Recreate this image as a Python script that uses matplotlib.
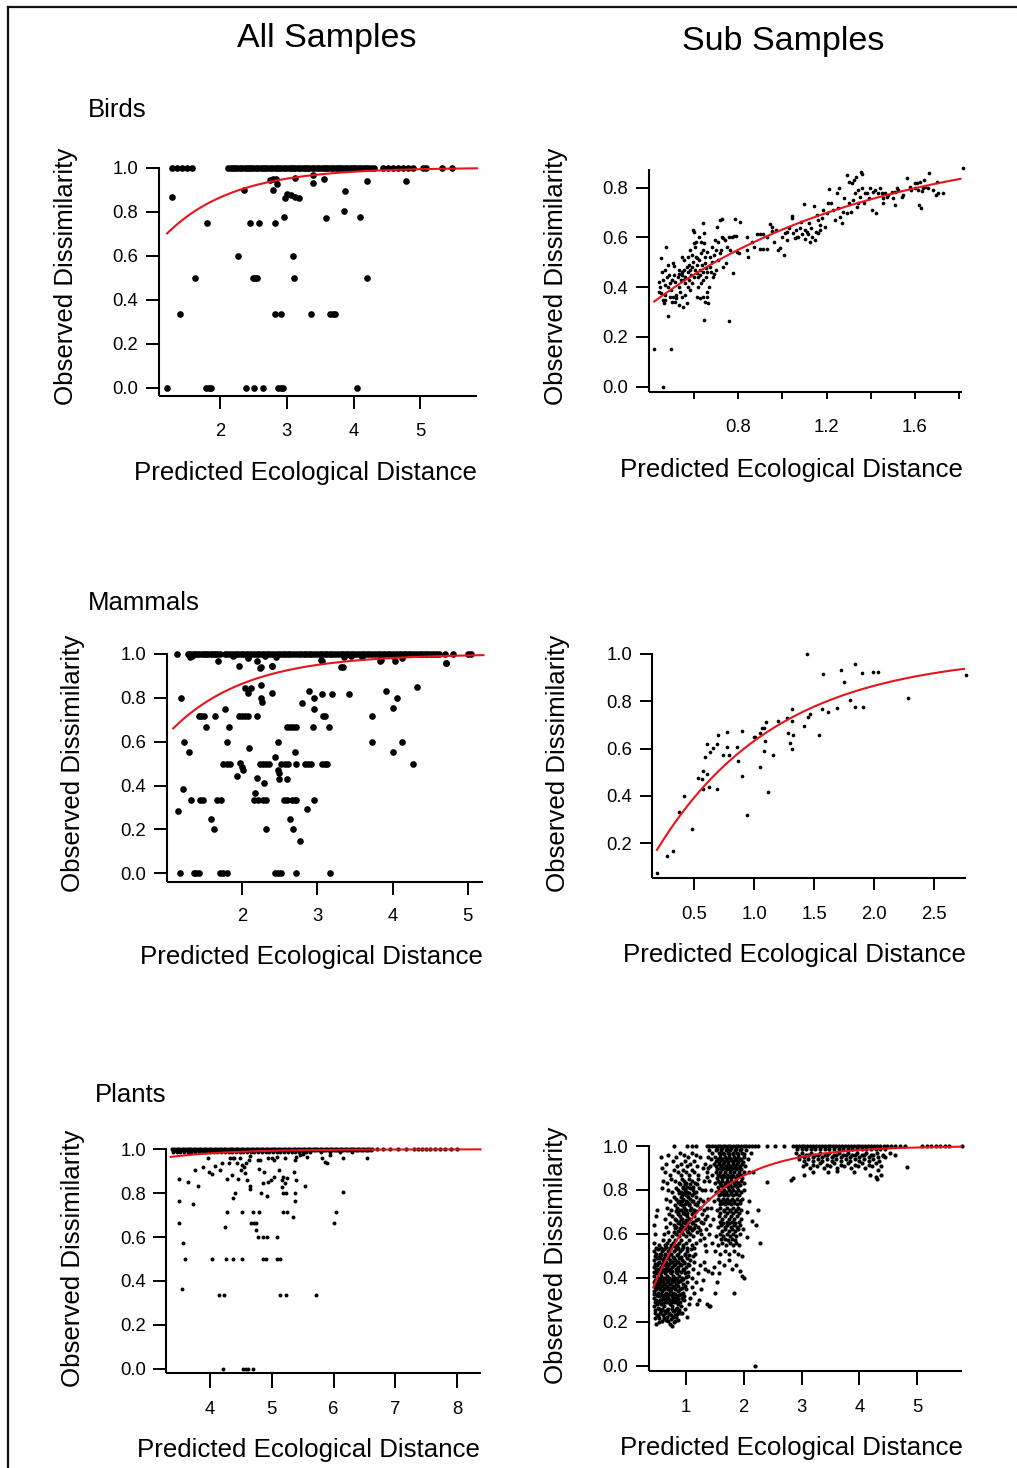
import matplotlib
matplotlib.use("Agg")
import matplotlib.pyplot as plt
from matplotlib.lines import Line2D
import numpy as np

plt.rcParams['font.family'] = ['Liberation Sans', 'DejaVu Sans']

# ---------------- Birds, all samples ----------------
birds_all_top_x = [1.28, 1.35, 1.43, 1.50, 1.58,
                   2.12, 2.16, 2.19, 2.23, 2.26, 2.30, 2.33, 2.37, 2.40, 2.44, 2.47, 2.50,
                   2.54, 2.57, 2.61, 2.64, 2.68, 2.71, 2.75, 2.78, 2.82, 2.85, 2.89, 2.92,
                   2.96, 2.99, 3.03, 3.06, 3.10, 3.13, 3.17, 3.20, 3.24, 3.27, 3.31, 3.34,
                   3.38, 3.41, 3.45, 3.48, 3.52, 3.55, 3.59, 3.62, 3.66, 3.69, 3.73, 3.76,
                   3.80, 3.83, 3.87, 3.90, 3.94, 3.97, 4.01, 4.04, 4.08, 4.11, 4.15, 4.18,
                   4.22, 4.26, 4.30,
                   4.44, 4.52, 4.59, 4.67, 4.74, 4.82, 4.89, 5.04, 5.09, 5.32, 5.47]
birds_all_pts = [(1.28, 0.865), (1.80, 0.75), (1.62, 0.50), (1.40, 0.333), (1.21, 0.0),
                 (1.79, 0.0), (1.83, 0.0), (1.87, 0.0),
                 (2.36, 0.898), (2.45, 0.75), (2.58, 0.75), (2.27, 0.60), (2.49, 0.50),
                 (2.52, 0.50), (2.56, 0.50), (2.39, 0.0), (2.51, 0.0), (2.65, 0.0),
                 (2.75, 0.944), (2.80, 0.947), (2.84, 0.947), (2.80, 0.90), (2.86, 0.925),
                 (2.82, 0.75), (2.83, 0.333), (2.91, 0.333), (2.87, 0.0), (2.91, 0.0), (2.94, 0.0),
                 (2.97, 0.86), (3.01, 0.88), (3.06, 0.875), (3.12, 0.867), (3.19, 0.864),
                 (2.96, 0.777), (3.12, 0.951), (3.09, 0.60), (3.11, 0.50),
                 (3.37, 0.333), (3.39, 0.967), (3.39, 0.932), (3.55, 0.948), (3.59, 0.771),
                 (3.65, 0.333), (3.69, 0.333), (3.72, 0.333),
                 (3.85, 0.803), (3.87, 0.895), (4.09, 0.777), (4.05, 0.0), (4.20, 0.941),
                 (4.20, 0.50), (4.78, 0.941)]

# ---------------- Birds, sub samples ----------------
birds_sub_pts = [
    (0.420, 0.153), (0.495, 0.153), (0.457, 0.0), (0.646, 0.268), (0.758, 0.264), (1.819, 0.880),
    (0.450, 0.516), (0.473, 0.563), (0.452, 0.378), (0.458, 0.35), (0.462, 0.335), (0.467, 0.35),
    (0.483, 0.284), (0.490, 0.415), (0.498, 0.429), (0.503, 0.496), (0.509, 0.485), (0.506, 0.36),
    (0.513, 0.34), (0.520, 0.355), (0.530, 0.40), (0.536, 0.38), (0.533, 0.455), (0.543, 0.449),
    (0.543, 0.523), (0.554, 0.509), (0.551, 0.429), (0.558, 0.415), (0.551, 0.32), (0.566, 0.335),
    (0.566, 0.48), (0.578, 0.49), (0.581, 0.47), (0.573, 0.40), (0.581, 0.389), (0.589, 0.415),
    (0.596, 0.63), (0.599, 0.62), (0.600, 0.576), (0.604, 0.563), (0.607, 0.523), (0.614, 0.516),
    (0.611, 0.456), (0.619, 0.44), (0.626, 0.449), (0.611, 0.362), (0.626, 0.355), (0.619, 0.40),
    (0.630, 0.415), (0.642, 0.429), (0.631, 0.536), (0.638, 0.549), (0.645, 0.576), (0.642, 0.657),
    (0.646, 0.616), (0.649, 0.496), (0.654, 0.476), (0.660, 0.462), (0.657, 0.362), (0.664, 0.335),
    (0.667, 0.40), (0.672, 0.523), (0.679, 0.563), (0.684, 0.44), (0.690, 0.455), (0.694, 0.59),
    (0.702, 0.643), (0.700, 0.549), (0.709, 0.509), (0.717, 0.536), (0.717, 0.67), (0.728, 0.673),
    (0.725, 0.603), (0.732, 0.596), (0.740, 0.59), (0.732, 0.482), (0.744, 0.496), (0.750, 0.563),
    (0.762, 0.549), (0.759, 0.603), (0.770, 0.603), (0.777, 0.458), (0.780, 0.606), (0.789, 0.606),
    (0.792, 0.543), (0.805, 0.536), (0.785, 0.675), (0.807, 0.663), (0.838, 0.603), (0.838, 0.549),
    (0.842, 0.523),
    (0.44, 0.42), (0.445, 0.40), (0.46, 0.43), (0.47, 0.41), (0.475, 0.44), (0.48, 0.40),
    (0.485, 0.45), (0.495, 0.39), (0.50, 0.43), (0.51, 0.45), (0.515, 0.42), (0.525, 0.44),
    (0.53, 0.47), (0.54, 0.43), (0.545, 0.46), (0.555, 0.47), (0.56, 0.44), (0.57, 0.46),
    (0.575, 0.43), (0.585, 0.45), (0.59, 0.48), (0.595, 0.50), (0.60, 0.44), (0.605, 0.47),
    (0.615, 0.49), (0.62, 0.51), (0.625, 0.47), (0.635, 0.49), (0.64, 0.46), (0.65, 0.52),
    (0.655, 0.44), (0.66, 0.54), (0.67, 0.48), (0.675, 0.46), (0.68, 0.50), (0.69, 0.53),
    (0.70, 0.47), (0.71, 0.58), (0.72, 0.55), (0.58, 0.55), (0.57, 0.52), (0.59, 0.53),
    (0.61, 0.58), (0.62, 0.60), (0.63, 0.58), (0.47, 0.37), (0.49, 0.36), (0.50, 0.34),
    (0.52, 0.37), (0.53, 0.33), (0.545, 0.36), (0.56, 0.37), (0.47, 0.47), (0.48, 0.49),
    (0.455, 0.46), (0.44, 0.38), (0.64, 0.36), (0.65, 0.34), (0.66, 0.38),
    (0.883, 0.612), (0.898, 0.612), (0.913, 0.612), (0.898, 0.552), (0.913, 0.552), (0.928, 0.552),
    (0.943, 0.654), (0.954, 0.643), (0.951, 0.627), (0.981, 0.549), (0.989, 0.556), (1.007, 0.529),
    (1.011, 0.616), (1.022, 0.623), (1.019, 0.59), (1.049, 0.616), (1.056, 0.596), (1.064, 0.603),
    (1.042, 0.686), (1.045, 0.677), (1.084, 0.663), (1.097, 0.733), (1.087, 0.614), (1.102, 0.63),
    (1.110, 0.62), (1.117, 0.614), (1.125, 0.583), (1.132, 0.603), (1.147, 0.59), (1.143, 0.728),
    (1.155, 0.69), (1.162, 0.67), (1.162, 0.616), (1.170, 0.63), (1.185, 0.71), (1.192, 0.643),
    (1.205, 0.737), (1.212, 0.793),
    (0.86, 0.58), (0.87, 0.56), (0.93, 0.60), (0.96, 0.58), (0.97, 0.63), (1.00, 0.60),
    (1.03, 0.64), (1.06, 0.63), (1.08, 0.64), (1.12, 0.66), (1.13, 0.64), (1.15, 0.62),
    (1.17, 0.65), (1.18, 0.68), (1.20, 0.70), (1.07, 0.60), (1.10, 0.595),
    (1.23, 0.71), (1.24, 0.67), (1.248, 0.777), (1.255, 0.797), (1.26, 0.683), (1.268, 0.657),
    (1.275, 0.703), (1.29, 0.851), (1.30, 0.824), (1.303, 0.737), (1.309, 0.703), (1.313, 0.817),
    (1.323, 0.831), (1.333, 0.844), (1.328, 0.777), (1.336, 0.724), (1.343, 0.737), (1.35, 0.764),
    (1.354, 0.864), (1.361, 0.854), (1.373, 0.777), (1.384, 0.777), (1.396, 0.797), (1.411, 0.784),
    (1.404, 0.71), (1.423, 0.697), (1.434, 0.777), (1.449, 0.777), (1.464, 0.777), (1.457, 0.757),
    (1.472, 0.764), (1.457, 0.74), (1.494, 0.784), (1.509, 0.784), (1.525, 0.791), (1.509, 0.73),
    (1.54, 0.761), (1.547, 0.771), (1.562, 0.838), (1.577, 0.804), (1.607, 0.817), (1.623, 0.824),
    (1.615, 0.79), (1.63, 0.788), (1.62, 0.73), (1.626, 0.717), (1.638, 0.797), (1.645, 0.804),
    (1.665, 0.858), (1.698, 0.824), (1.695, 0.771), (1.706, 0.78), (1.728, 0.78), (1.64, 0.83),
    (1.22, 0.74), (1.25, 0.72), (1.28, 0.76), (1.29, 0.70), (1.32, 0.75), (1.34, 0.79),
    (1.36, 0.80), (1.37, 0.74), (1.39, 0.76), (1.42, 0.79), (1.44, 0.80), (1.48, 0.77),
    (1.50, 0.76), (1.52, 0.80), (1.58, 0.79), (1.60, 0.80), (1.66, 0.80), (1.68, 0.79), (1.60, 0.82)]

# ---------------- Mammals, all samples ----------------
mammals_all_top_x = [1.13, 1.28, 1.31, 1.34, 1.37, 1.40, 1.43, 1.46, 1.49, 1.52, 1.55, 1.58, 1.61,
                     1.64, 1.67, 1.70,
                     1.77, 1.80, 1.84, 1.87, 1.91, 1.94, 1.98, 2.01, 2.05, 2.08, 2.12, 2.15, 2.19,
                     2.22, 2.26, 2.29, 2.33, 2.36, 2.40, 2.43, 2.47, 2.50, 2.54, 2.57, 2.61, 2.64,
                     2.68, 2.71, 2.75, 2.78, 2.82, 2.85, 2.89, 2.92, 2.96, 2.99, 3.03, 3.06, 3.10,
                     3.13, 3.17, 3.20, 3.24, 3.27, 3.31, 3.34, 3.38, 3.41, 3.45, 3.48, 3.52, 3.55,
                     3.59, 3.62, 3.66, 3.69, 3.73, 3.76, 3.80, 3.83, 3.87, 3.90, 3.94, 3.97, 4.01,
                     4.04, 4.08, 4.11, 4.15, 4.18, 4.22, 4.25, 4.29, 4.32, 4.36, 4.39, 4.43, 4.46,
                     4.50, 4.54, 4.58, 4.62, 4.70, 4.81, 5.01, 5.05]
mammals_all_pts = [
    (1.30, 0.985), (1.33, 0.99), (1.87, 0.99), (2.07, 0.985), (2.30, 0.99), (2.45, 0.985),
    (3.35, 0.985), (3.45, 0.99), (3.60, 0.985), (4.00, 0.99),
    (1.68, 0.969), (1.95, 0.947), (2.08, 0.98), (2.19, 0.969), (2.25, 0.94), (2.40, 0.947),
    (3.06, 0.97), (3.32, 0.94), (3.83, 0.97), (4.03, 0.97), (4.12, 0.98), (4.71, 0.96),
    (1.19, 0.798), (1.23, 0.600), (1.29, 0.555), (1.21, 0.383), (1.15, 0.286),
    (1.17, 0.0), (1.36, 0.0), (1.39, 0.0), (1.42, 0.0),
    (1.42, 0.717), (1.45, 0.717), (1.49, 0.717), (1.52, 0.666),
    (1.32, 0.334), (1.44, 0.334), (1.48, 0.334), (1.64, 0.717), (1.59, 0.246), (1.62, 0.20),
    (1.66, 0.334), (1.72, 0.334), (1.70, 0.0), (1.74, 0.0), (1.79, 0.0),
    (1.77, 0.749), (1.79, 0.60), (1.82, 0.666), (1.75, 0.50), (1.79, 0.50), (1.83, 0.50),
    (1.97, 0.505), (2.00, 0.486), (1.93, 0.444), (2.01, 0.471),
    (1.95, 0.717), (1.99, 0.717), (2.04, 0.717), (2.08, 0.717),
    (2.03, 0.843), (2.07, 0.82), (2.12, 0.843), (2.09, 0.57), (2.20, 0.717), (2.19, 0.433),
    (2.17, 0.365), (2.15, 0.334), (2.21, 0.334), (2.28, 0.334), (2.32, 0.334),
    (2.24, 0.935), (2.25, 0.859), (2.25, 0.798), (2.26, 0.78),
    (2.24, 0.50), (2.27, 0.50), (2.32, 0.50), (2.36, 0.50), (2.29, 0.413), (2.32, 0.20),
    (2.39, 0.945), (2.39, 0.82), (2.43, 0.532), (2.48, 0.60), (2.48, 0.471), (2.49, 0.456),
    (2.49, 0.429), (2.43, 0.0), (2.47, 0.0), (2.51, 0.0),
    (2.52, 0.50), (2.57, 0.50), (2.61, 0.50), (2.59, 0.429),
    (2.55, 0.334), (2.60, 0.334), (2.66, 0.334), (2.70, 0.334), (2.72, 0.334),
    (2.59, 0.666), (2.63, 0.666), (2.68, 0.666), (2.72, 0.666),
    (2.64, 0.246), (2.67, 0.20), (2.70, 0.555), (2.72, 0.50), (2.71, 0.0),
    (2.80, 0.778), (2.77, 0.149), (2.86, 0.292), (2.84, 0.50), (2.88, 0.50), (2.92, 0.50),
    (2.89, 0.833), (2.94, 0.666), (2.96, 0.798), (2.96, 0.748), (2.95, 0.334),
    (3.06, 0.50), (3.10, 0.50), (3.13, 0.50), (3.07, 0.717), (3.10, 0.717), (3.06, 0.818),
    (3.05, 0.973), (3.15, 0.666), (3.17, 0.0), (3.19, 0.818),
    (3.34, 0.942), (3.42, 0.816), (3.72, 0.717), (3.72, 0.60), (3.84, 0.973), (3.91, 0.833),
    (4.01, 0.752), (4.06, 0.798), (4.01, 0.555), (4.12, 0.60), (4.32, 0.851), (4.27, 0.50),
    (4.71, 0.96)]

# ---------------- Mammals, sub samples ----------------
mammals_sub_pts = [
    (0.191, 0.073), (0.275, 0.148), (0.319, 0.169), (0.375, 0.331), (0.417, 0.398), (0.483, 0.262),
    (0.533, 0.477), (0.561, 0.470), (0.572, 0.506), (0.575, 0.428), (0.589, 0.563), (0.603, 0.492),
    (0.608, 0.619), (0.625, 0.438), (0.631, 0.587), (0.659, 0.604), (0.692, 0.619), (0.700, 0.656),
    (0.692, 0.428), (0.742, 0.572), (0.770, 0.605), (0.775, 0.668), (0.792, 0.572), (0.853, 0.608),
    (0.862, 0.547), (0.895, 0.674), (0.900, 0.485), (0.942, 0.321), (0.998, 0.647), (1.006, 0.650),
    (1.048, 0.521), (1.048, 0.664), (1.062, 0.685), (1.081, 0.685), (1.090, 0.633), (1.081, 0.591),
    (1.098, 0.710), (1.112, 0.415), (1.154, 0.573), (1.201, 0.717), (1.276, 0.727), (1.284, 0.666),
    (1.298, 0.622), (1.312, 0.717), (1.318, 0.765), (1.312, 0.598), (1.326, 0.656), (1.415, 0.696),
    (1.437, 1.000), (1.446, 0.733), (1.465, 0.746), (1.543, 0.657), (1.563, 0.765), (1.576, 0.914),
    (1.618, 0.753), (1.693, 0.769), (1.724, 0.931), (1.749, 0.879), (1.799, 0.805), (1.841, 0.955),
    (1.841, 0.776), (1.896, 0.917), (1.910, 0.776), (1.988, 0.921), (2.030, 0.924), (2.286, 0.813),
    (2.767, 0.910)]

# ---------------- Plants, all samples ----------------
plants_all_top_x = [3.38, 3.42, 3.46, 3.50, 3.54, 3.58, 3.62, 3.66, 3.70, 3.74, 3.78, 3.82, 3.86,
                    3.90, 3.94, 3.98, 4.02, 4.06, 4.10, 4.14, 4.18, 4.22, 4.26, 4.30, 4.34, 4.38,
                    4.42, 4.46, 4.50, 4.54, 4.58, 4.62, 4.66, 4.70, 4.74, 4.78, 4.82, 4.86, 4.90,
                    4.94, 4.98, 5.02, 5.06, 5.10, 5.14, 5.18, 5.22, 5.26, 5.30, 5.34, 5.38, 5.42,
                    5.46, 5.50, 5.54, 5.58, 5.62, 5.66, 5.70, 5.74, 5.78, 5.82, 5.86, 5.90, 5.94,
                    5.98, 6.02, 6.06, 6.10, 6.14, 6.18, 6.22, 6.26, 6.30, 6.34, 6.38, 6.42, 6.46,
                    6.50, 6.54, 6.58, 6.62,
                    6.70, 6.80, 6.92, 7.05, 7.18, 7.30, 7.37, 7.43, 7.50, 7.57, 7.65, 7.73,
                    7.80, 7.90, 8.00]
plants_all_band_x = [3.40, 3.44, 3.48, 3.52, 3.56, 3.60, 3.64, 3.68, 3.72, 3.76, 3.80, 3.84, 3.88,
                     3.92, 3.96, 4.00, 4.04, 4.08, 4.12, 4.16, 4.20, 4.24, 4.28, 4.32, 4.36, 4.40,
                     4.44, 4.48, 4.52, 4.56, 4.60, 4.64, 4.68, 4.72, 4.76, 4.80, 4.84, 4.88, 4.92,
                     4.96, 5.00, 5.04, 5.08, 5.12, 5.16, 5.20, 5.24, 5.28, 5.32, 5.36, 5.40, 5.44,
                     5.48, 5.52, 5.56, 5.60, 5.64, 5.68, 5.72, 5.76, 5.80, 5.84, 5.88, 5.92, 5.96,
                     6.00, 6.04, 6.08, 6.12, 6.16, 6.20, 6.24, 6.28, 6.32, 6.36, 6.40, 6.44, 6.48,
                     6.52, 6.56, 6.60]
plants_all_near_top_x = [3.40, 3.46, 3.52, 3.58, 3.64, 3.70, 3.76, 3.82, 3.88, 3.94, 4.00, 4.06,
                         4.12, 4.18, 4.24, 4.30, 4.36, 4.42, 4.48, 4.54, 4.60, 4.66, 4.72, 4.78,
                         4.84, 4.90, 4.96, 5.02, 5.08, 5.14, 5.20, 5.26, 5.32, 5.38, 5.44, 5.50,
                         5.56, 5.62, 5.80, 5.95, 6.10, 6.30]
plants_all_pts = [
    (3.50, 0.865), (3.49, 0.765), (3.50, 0.666), (3.57, 0.574), (3.59, 0.498), (3.55, 0.363),
    (3.65, 0.853), (3.72, 0.751), (3.75, 0.906), (3.80, 0.833), (3.88, 0.918), (3.97, 0.959),
    (3.99, 0.898), (4.04, 0.888), (4.03, 0.498), (4.08, 0.924), (4.16, 0.906), (4.19, 0.936),
    (4.15, 0.336), (4.23, 0.336), (4.21, 0.0), (4.24, 0.647), (4.26, 0.498), (4.28, 0.713),
    (4.28, 0.866), (4.32, 0.959), (4.37, 0.959), (4.39, 0.959), (4.31, 0.936), (4.35, 0.885),
    (4.38, 0.777), (4.40, 0.80), (4.37, 0.498), (4.43, 0.936), (4.46, 0.863), (4.49, 0.959),
    (4.50, 0.906), (4.52, 0.713), (4.52, 0.498), (4.54, 0.0), (4.58, 0.0), (4.62, 0.0),
    (4.51, 0.93), (4.55, 0.92), (4.59, 0.936), (4.57, 0.89), (4.60, 0.86), (4.63, 0.951),
    (4.65, 0.97), (4.64, 0.833), (4.65, 0.818), (4.67, 0.666), (4.71, 0.666), (4.74, 0.666),
    (4.70, 0.0), (4.69, 0.713), (4.79, 0.713), (4.74, 0.632), (4.78, 0.599), (4.85, 0.599),
    (4.93, 0.599), (4.78, 0.951), (4.81, 0.951), (4.79, 0.91), (4.83, 0.80), (4.85, 0.498),
    (4.91, 0.498), (4.88, 0.898), (4.86, 0.845), (4.92, 0.787), (4.94, 0.853), (4.99, 0.86),
    (5.03, 0.875), (4.94, 0.959), (5.00, 0.959), (5.04, 0.951), (5.09, 0.599), (5.08, 0.498),
    (5.13, 0.498), (5.09, 0.965), (5.12, 0.906), (5.14, 0.336), (5.23, 0.336), (5.16, 0.86),
    (5.19, 0.875), (5.21, 0.845), (5.24, 0.87), (5.16, 0.83), (5.19, 0.80), (5.23, 0.80),
    (5.19, 0.713), (5.24, 0.713), (5.21, 0.959), (5.34, 0.693), (5.36, 0.898), (5.38, 0.80),
    (5.38, 0.765), (5.39, 0.86), (5.38, 0.951), (5.40, 0.967), (5.45, 0.974), (5.51, 0.978),
    (5.54, 0.833), (5.57, 0.964), (5.71, 0.336), (5.81, 0.959), (5.86, 0.944), (5.90, 0.936),
    (5.94, 0.974), (6.00, 0.666), (6.04, 0.713), (6.15, 0.959), (6.16, 0.807), (6.54, 0.959)]

# ---------------- Plants, sub samples ----------------
plants_sub_top_x = [0.79, 1.02, 1.10, 1.18, 1.36, 1.41, 1.46, 1.50, 1.55, 1.59, 1.64, 1.68, 1.73,
                    1.77, 1.82, 1.86, 1.91, 1.95, 2.00, 2.04, 2.09, 2.14, 2.20, 2.25, 2.40, 2.55,
                    2.70, 2.86, 2.90, 2.95, 3.00, 3.05, 3.10, 3.15, 3.20, 3.25, 3.30, 3.35, 3.40,
                    3.45, 3.50, 3.55, 3.60, 3.65, 3.70, 3.75, 3.80, 3.85, 3.90, 3.95, 4.00, 4.05,
                    4.10, 4.15, 4.20, 4.25, 4.30, 4.36, 4.42, 4.48, 4.55, 4.62, 4.70, 4.78, 5.08,
                    5.16, 5.24, 5.32, 5.40, 5.48, 5.55, 5.78]
plants_sub_low_pts = [
    (0.49, 0.19), (0.53, 0.20), (0.66, 0.21), (0.72, 0.19), (0.76, 0.18), (0.80, 0.20), (0.84, 0.22),
    (0.87, 0.21), (0.47, 0.24), (0.52, 0.23), (0.57, 0.25), (0.61, 0.23), (0.64, 0.25), (0.68, 0.22),
    (0.71, 0.24), (0.74, 0.23), (0.78, 0.25), (0.82, 0.23), (0.86, 0.25), (0.90, 0.24),
    (0.46, 0.27), (0.50, 0.28), (0.54, 0.26), (0.58, 0.28), (0.62, 0.27), (0.65, 0.29), (0.69, 0.26),
    (0.72, 0.28), (0.76, 0.27), (0.79, 0.29), (0.83, 0.26), (0.87, 0.28), (0.92, 0.27),
    (0.45, 0.31), (0.48, 0.30), (0.51, 0.32), (0.55, 0.30), (0.58, 0.32), (0.61, 0.31), (0.64, 0.30),
    (0.67, 0.32), (0.70, 0.31), (0.73, 0.30), (0.77, 0.32), (0.80, 0.31), (0.84, 0.30), (0.88, 0.32),
    (0.93, 0.31), (0.97, 0.30),
    (0.46, 0.34), (0.49, 0.35), (0.52, 0.33), (0.56, 0.35), (0.59, 0.34), (0.62, 0.35), (0.66, 0.33),
    (0.69, 0.35), (0.72, 0.34), (0.75, 0.35), (0.78, 0.33), (0.82, 0.35), (0.86, 0.34), (0.90, 0.35),
    (0.95, 0.33), (1.00, 0.35),
    (0.45, 0.38), (0.48, 0.37), (0.51, 0.39), (0.54, 0.37), (0.57, 0.38), (0.60, 0.39), (0.63, 0.37),
    (0.67, 0.38), (0.70, 0.39), (0.73, 0.37), (0.76, 0.38), (0.80, 0.39), (0.83, 0.37), (0.87, 0.38),
    (0.91, 0.39), (0.96, 0.37), (1.02, 0.38),
    (0.46, 0.41), (0.49, 0.42), (0.52, 0.40), (0.55, 0.42), (0.58, 0.41), (0.62, 0.40), (0.65, 0.42),
    (0.68, 0.41), (0.71, 0.40), (0.74, 0.42), (0.78, 0.41), (0.81, 0.40), (0.85, 0.42), (0.89, 0.41),
    (0.93, 0.40), (0.98, 0.42), (1.04, 0.41), (1.10, 0.40),
    (0.45, 0.45), (0.48, 0.44), (0.51, 0.46), (0.54, 0.44), (0.57, 0.45), (0.60, 0.46), (0.64, 0.44),
    (0.67, 0.45), (0.70, 0.46), (0.73, 0.44), (0.77, 0.45), (0.80, 0.46), (0.83, 0.44), (0.87, 0.45),
    (0.91, 0.46), (0.95, 0.44), (1.00, 0.45), (1.06, 0.46), (1.12, 0.44),
    (0.46, 0.48), (0.50, 0.49), (0.53, 0.47), (0.56, 0.49), (0.60, 0.48), (0.63, 0.49), (0.66, 0.47),
    (0.69, 0.49), (0.72, 0.48), (0.76, 0.47), (0.79, 0.49), (0.82, 0.48), (0.86, 0.47), (0.89, 0.49),
    (0.93, 0.48), (0.97, 0.47), (1.02, 0.49), (1.08, 0.48), (1.15, 0.47),
    (0.45, 0.52), (0.48, 0.51), (0.52, 0.53), (0.55, 0.51), (0.59, 0.52), (0.62, 0.53), (0.65, 0.51),
    (0.69, 0.52), (0.72, 0.53), (0.75, 0.51), (0.79, 0.52), (0.83, 0.53), (0.86, 0.51), (0.90, 0.52),
    (0.94, 0.53), (0.98, 0.51), (1.03, 0.52), (1.09, 0.53), (1.16, 0.51),
    (0.46, 0.56), (0.53, 0.55), (0.60, 0.57), (0.64, 0.55), (0.68, 0.56), (0.71, 0.57), (0.75, 0.55),
    (0.78, 0.56), (0.82, 0.57), (0.85, 0.55), (0.89, 0.56), (0.92, 0.57), (0.96, 0.55), (1.00, 0.56),
    (1.05, 0.57), (1.10, 0.55), (1.17, 0.56), (1.24, 0.57)]
plants_sub_low_fill = [
    (0.475, 0.215), (0.505, 0.225), (0.545, 0.215), (0.585, 0.205), (0.625, 0.215), (0.695, 0.205),
    (0.745, 0.212), (0.785, 0.222), (0.815, 0.205), (0.855, 0.235),
    (0.465, 0.255), (0.515, 0.262), (0.555, 0.242), (0.595, 0.258), (0.635, 0.238), (0.675, 0.252),
    (0.705, 0.235), (0.755, 0.258), (0.805, 0.248), (0.845, 0.262), (0.885, 0.255),
    (0.475, 0.292), (0.525, 0.288), (0.565, 0.298), (0.605, 0.285), (0.655, 0.305), (0.685, 0.292),
    (0.745, 0.288), (0.785, 0.302), (0.825, 0.292), (0.865, 0.305), (0.905, 0.292), (0.945, 0.305),
    (0.455, 0.325), (0.505, 0.322), (0.535, 0.318), (0.575, 0.328), (0.625, 0.322), (0.685, 0.318),
    (0.715, 0.325), (0.765, 0.318), (0.815, 0.328), (0.855, 0.318), (0.915, 0.325), (0.975, 0.318),
    (0.465, 0.358), (0.505, 0.362), (0.545, 0.352), (0.585, 0.362), (0.645, 0.355), (0.675, 0.365),
    (0.735, 0.352), (0.775, 0.362), (0.815, 0.352), (0.875, 0.362), (0.935, 0.355), (0.985, 0.365),
    (0.475, 0.392), (0.525, 0.385), (0.555, 0.395), (0.615, 0.385), (0.655, 0.395), (0.695, 0.385),
    (0.755, 0.395), (0.795, 0.385), (0.855, 0.395), (0.895, 0.385), (0.945, 0.395), (1.005, 0.402),
    (0.455, 0.428), (0.505, 0.432), (0.565, 0.425), (0.605, 0.435), (0.645, 0.428), (0.695, 0.435),
    (0.725, 0.425), (0.765, 0.432), (0.825, 0.425), (0.875, 0.435), (0.925, 0.428), (0.975, 0.435),
    (1.035, 0.428),
    (0.475, 0.462), (0.525, 0.468), (0.585, 0.462), (0.625, 0.472), (0.655, 0.458), (0.715, 0.465),
    (0.745, 0.472), (0.815, 0.462), (0.855, 0.472), (0.905, 0.462), (0.965, 0.468), (1.045, 0.462),
    (0.465, 0.498), (0.535, 0.495), (0.575, 0.502), (0.645, 0.498), (0.705, 0.505), (0.775, 0.495),
    (0.845, 0.502), (0.915, 0.495), (0.985, 0.502), (1.055, 0.505), (1.125, 0.498),
    (0.495, 0.538), (0.575, 0.535), (0.665, 0.542), (0.735, 0.535), (0.805, 0.545), (0.875, 0.535),
    (0.945, 0.542), (1.025, 0.538), (1.135, 0.535)]
plants_sub_upper_pts = [
    (0.47, 0.60), (0.62, 0.60), (0.70, 0.61), (0.76, 0.59), (0.80, 0.61), (0.84, 0.60), (0.88, 0.59),
    (0.92, 0.61), (0.96, 0.60), (1.00, 0.59), (1.04, 0.61), (1.08, 0.60), (1.13, 0.59), (1.19, 0.61),
    (1.27, 0.60),
    (0.46, 0.64), (0.66, 0.63), (0.73, 0.65), (0.79, 0.64), (0.83, 0.63), (0.87, 0.65), (0.91, 0.64),
    (0.95, 0.63), (0.99, 0.65), (1.03, 0.64), (1.07, 0.63), (1.11, 0.65), (1.16, 0.64), (1.22, 0.63),
    (1.30, 0.65),
    (0.48, 0.68), (0.64, 0.67), (0.71, 0.69), (0.77, 0.68), (0.82, 0.67), (0.86, 0.69), (0.90, 0.68),
    (0.94, 0.67), (0.98, 0.69), (1.02, 0.68), (1.06, 0.67), (1.10, 0.69), (1.15, 0.68), (1.21, 0.67),
    (1.28, 0.69),
    (0.50, 0.71), (0.68, 0.72), (0.75, 0.71), (0.81, 0.73), (0.85, 0.72), (0.89, 0.71), (0.93, 0.73),
    (0.97, 0.72), (1.01, 0.71), (1.05, 0.73), (1.09, 0.72), (1.14, 0.71), (1.19, 0.73), (1.25, 0.72),
    (1.32, 0.71),
    (0.66, 0.76), (0.73, 0.75), (0.79, 0.77), (0.84, 0.76), (0.88, 0.75), (0.92, 0.77), (0.96, 0.76),
    (1.00, 0.75), (1.04, 0.77), (1.08, 0.76), (1.13, 0.75), (1.18, 0.77), (1.24, 0.76),
    (0.59, 0.81), (0.70, 0.80), (0.77, 0.79), (0.83, 0.81), (0.87, 0.80), (0.91, 0.79), (0.95, 0.81),
    (0.99, 0.80), (1.03, 0.79), (1.07, 0.81), (1.12, 0.80), (1.17, 0.79), (1.23, 0.81),
    (0.61, 0.84), (0.68, 0.83), (0.75, 0.85), (0.82, 0.84), (0.88, 0.83), (0.93, 0.85), (0.97, 0.84),
    (1.01, 0.83), (1.05, 0.85), (1.10, 0.84), (1.16, 0.83), (1.22, 0.85),
    (0.64, 0.88), (0.72, 0.87), (0.80, 0.89), (0.86, 0.88), (0.91, 0.87), (0.96, 0.89), (1.00, 0.88),
    (1.05, 0.87), (1.10, 0.89), (1.15, 0.88), (1.21, 0.87),
    (0.59, 0.90), (0.66, 0.92), (0.78, 0.93), (0.85, 0.91), (0.92, 0.92), (0.98, 0.93), (1.03, 0.91),
    (1.08, 0.92), (1.14, 0.93), (1.20, 0.91),
    (0.57, 0.95), (0.70, 0.96), (0.83, 0.95), (0.90, 0.97), (0.97, 0.96), (1.04, 0.95), (1.11, 0.97),
    (1.18, 0.96), (1.25, 0.95),
    (0.82, 0.625), (0.86, 0.615), (0.90, 0.628), (0.94, 0.618), (0.98, 0.625), (1.02, 0.615),
    (1.06, 0.628), (1.10, 0.618), (1.15, 0.625), (1.24, 0.618),
    (0.84, 0.665), (0.88, 0.655), (0.92, 0.668), (0.96, 0.655), (1.00, 0.665), (1.04, 0.655),
    (1.08, 0.668), (1.12, 0.655), (1.18, 0.665), (1.26, 0.655),
    (0.83, 0.705), (0.87, 0.695), (0.91, 0.708), (0.95, 0.695), (0.99, 0.705), (1.03, 0.695),
    (1.07, 0.708), (1.12, 0.695), (1.17, 0.705),
    (0.86, 0.745), (0.90, 0.735), (0.94, 0.748), (0.98, 0.735), (1.02, 0.745), (1.06, 0.735),
    (1.11, 0.748), (1.16, 0.735), (1.22, 0.745),
    (0.89, 0.785), (0.93, 0.775), (0.97, 0.788), (1.01, 0.775), (1.05, 0.785), (1.10, 0.775),
    (1.15, 0.788),
    (0.90, 0.825), (0.95, 0.815), (0.99, 0.828), (1.03, 0.815), (1.08, 0.825), (1.13, 0.815),
    (1.19, 0.828),
    (1.33, 0.55), (1.35, 0.62), (1.37, 0.72), (1.34, 0.80), (1.36, 0.86), (1.33, 0.92), (1.30, 0.75),
    (1.32, 0.58), (1.35, 0.52), (1.38, 0.90), (1.31, 0.84), (1.29, 0.90), (1.34, 0.67), (1.28, 0.80),
    (1.10, 0.36), (1.14, 0.33), (1.18, 0.38), (1.22, 0.42), (1.26, 0.35), (1.19, 0.28), (1.23, 0.30),
    (1.30, 0.39), (1.34, 0.44), (1.36, 0.28), (1.40, 0.27), (1.42, 0.27), (1.38, 0.43), (1.45, 0.42),
    (1.48, 0.45), (1.51, 0.33), (1.54, 0.38), (1.58, 0.42), (1.25, 0.46), (1.31, 0.47), (1.05, 0.28),
    (1.08, 0.31), (0.98, 0.26), (1.02, 0.22), (0.94, 0.24)]
plants_sub_mid_pts = [
    (1.40, 0.98), (1.46, 0.97), (1.52, 0.98), (1.57, 0.97), (1.61, 0.98), (1.65, 0.97), (1.69, 0.98),
    (1.73, 0.97), (1.77, 0.98), (1.81, 0.97), (1.85, 0.98), (1.89, 0.97), (1.93, 0.98), (1.98, 0.97),
    (2.04, 0.98), (2.12, 0.97),
    (1.38, 0.95), (1.44, 0.94), (1.50, 0.95), (1.55, 0.94), (1.59, 0.95), (1.63, 0.94), (1.67, 0.95),
    (1.71, 0.94), (1.75, 0.95), (1.79, 0.94), (1.83, 0.95), (1.87, 0.94), (1.91, 0.95), (1.95, 0.94),
    (2.00, 0.95), (2.07, 0.94),
    (1.42, 0.91), (1.48, 0.92), (1.53, 0.91), (1.57, 0.92), (1.61, 0.91), (1.65, 0.92), (1.69, 0.91),
    (1.73, 0.92), (1.77, 0.91), (1.81, 0.92), (1.85, 0.91), (1.89, 0.92), (1.93, 0.91), (1.97, 0.92),
    (2.02, 0.91),
    (1.37, 0.88), (1.46, 0.87), (1.52, 0.88), (1.56, 0.87), (1.60, 0.88), (1.64, 0.87), (1.68, 0.88),
    (1.72, 0.87), (1.76, 0.88), (1.80, 0.87), (1.84, 0.88), (1.88, 0.87), (1.92, 0.88), (1.96, 0.87),
    (2.00, 0.88), (2.10, 0.88),
    (1.41, 0.84), (1.50, 0.83), (1.55, 0.84), (1.59, 0.83), (1.63, 0.84), (1.67, 0.83), (1.71, 0.84),
    (1.75, 0.83), (1.79, 0.84), (1.83, 0.83), (1.87, 0.84), (1.91, 0.83), (1.95, 0.84), (2.00, 0.83),
    (1.44, 0.80), (1.53, 0.79), (1.58, 0.80), (1.62, 0.79), (1.66, 0.80), (1.70, 0.79), (1.74, 0.80),
    (1.78, 0.79), (1.82, 0.80), (1.86, 0.79), (1.90, 0.80), (1.95, 0.79), (2.01, 0.80),
    (1.39, 0.76), (1.49, 0.75), (1.56, 0.76), (1.60, 0.75), (1.64, 0.76), (1.68, 0.75), (1.72, 0.76),
    (1.76, 0.75), (1.80, 0.76), (1.84, 0.75), (1.88, 0.76), (1.93, 0.75), (1.98, 0.76),
    (1.43, 0.72), (1.54, 0.71), (1.60, 0.72), (1.66, 0.71), (1.71, 0.72), (1.76, 0.71), (1.81, 0.72),
    (1.86, 0.71), (1.91, 0.72), (1.96, 0.71),
    (1.37, 0.68), (1.47, 0.67), (1.57, 0.68), (1.63, 0.67), (1.68, 0.68), (1.74, 0.67), (1.79, 0.68),
    (1.84, 0.67), (1.89, 0.68), (1.95, 0.67),
    (1.42, 0.64), (1.55, 0.63), (1.61, 0.64), (1.67, 0.63), (1.72, 0.64), (1.78, 0.63), (1.83, 0.64),
    (1.88, 0.63), (1.94, 0.64), (1.99, 0.62),
    (1.40, 0.60), (1.52, 0.59), (1.59, 0.60), (1.65, 0.59), (1.71, 0.60), (1.77, 0.59), (1.82, 0.60),
    (1.87, 0.59), (1.93, 0.60),
    (1.46, 0.56), (1.56, 0.55), (1.63, 0.56), (1.70, 0.55), (1.76, 0.56), (1.81, 0.55), (1.87, 0.56),
    (1.92, 0.55),
    (1.50, 0.52), (1.60, 0.51), (1.68, 0.52), (1.75, 0.51), (1.83, 0.52), (1.90, 0.51), (1.97, 0.50),
    (1.58, 0.47), (1.66, 0.46), (1.74, 0.48), (1.86, 0.46), (1.93, 0.43), (1.97, 0.41), (2.00, 0.40),
    (1.80, 0.44), (1.83, 0.33),
    (2.05, 0.587), (2.21, 0.64), (2.25, 0.71), (2.28, 0.56), (2.40, 0.838), (2.16, 0.883),
    (2.10, 0.75), (2.14, 0.66), (2.06, 0.70), (2.19, 0.0)]
plants_sub_mid_fill = [
    (1.545, 0.985), (1.585, 0.965), (1.625, 0.99), (1.665, 0.962), (1.705, 0.985), (1.745, 0.962),
    (1.785, 0.99), (1.825, 0.962), (1.865, 0.985), (1.905, 0.962), (1.955, 0.985), (2.015, 0.962),
    (1.525, 0.93), (1.575, 0.925), (1.615, 0.935), (1.655, 0.925), (1.695, 0.935), (1.735, 0.925),
    (1.775, 0.935), (1.815, 0.925), (1.855, 0.935), (1.895, 0.925), (1.945, 0.935), (1.985, 0.925),
    (1.535, 0.895), (1.585, 0.90), (1.625, 0.895), (1.665, 0.90), (1.705, 0.895), (1.745, 0.90),
    (1.785, 0.895), (1.825, 0.90), (1.865, 0.895), (1.905, 0.90), (1.955, 0.895),
    (1.545, 0.855), (1.585, 0.862), (1.625, 0.855), (1.665, 0.862), (1.705, 0.855), (1.745, 0.862),
    (1.785, 0.855), (1.825, 0.862), (1.865, 0.855), (1.905, 0.862), (1.975, 0.855),
    (1.565, 0.815), (1.605, 0.822), (1.645, 0.815), (1.685, 0.822), (1.725, 0.815), (1.765, 0.822),
    (1.805, 0.815), (1.845, 0.822), (1.885, 0.815), (1.935, 0.822),
    (1.575, 0.775), (1.615, 0.782), (1.655, 0.775), (1.695, 0.782), (1.735, 0.775), (1.775, 0.782),
    (1.815, 0.775), (1.865, 0.782), (1.915, 0.775),
    (1.585, 0.735), (1.635, 0.742), (1.685, 0.735), (1.735, 0.742), (1.785, 0.735), (1.835, 0.742),
    (1.885, 0.735), (1.945, 0.742),
    (1.595, 0.695), (1.655, 0.702), (1.705, 0.695), (1.765, 0.702), (1.815, 0.695), (1.865, 0.702),
    (1.925, 0.695),
    (1.585, 0.655), (1.645, 0.648), (1.705, 0.655), (1.755, 0.648), (1.805, 0.655), (1.855, 0.648),
    (1.915, 0.655),
    (1.625, 0.615), (1.685, 0.622), (1.745, 0.615), (1.795, 0.622), (1.845, 0.615), (1.905, 0.622),
    (1.605, 0.575), (1.675, 0.578), (1.735, 0.572), (1.795, 0.578), (1.855, 0.572)]
plants_sub_right_pts = [
    (2.92, 0.985), (3.00, 0.985), (3.08, 0.985), (3.16, 0.985), (3.24, 0.985), (3.32, 0.985),
    (3.40, 0.985), (3.48, 0.985), (3.56, 0.985), (3.64, 0.985), (3.72, 0.985), (3.80, 0.985),
    (3.88, 0.985), (3.96, 0.985), (4.04, 0.985), (4.12, 0.985), (4.20, 0.985), (4.28, 0.985),
    (4.36, 0.985), (4.44, 0.985),
    (2.90, 0.97), (3.00, 0.97), (3.08, 0.96), (3.16, 0.97), (3.24, 0.96), (3.32, 0.97), (3.40, 0.96),
    (3.48, 0.97), (3.56, 0.96), (3.64, 0.97), (3.72, 0.96), (3.80, 0.97), (3.88, 0.96), (3.96, 0.97),
    (4.04, 0.96), (4.12, 0.97), (4.20, 0.96), (4.30, 0.97), (4.40, 0.96), (4.52, 0.97), (4.62, 0.96),
    (2.95, 0.94), (3.04, 0.93), (3.12, 0.94), (3.20, 0.93), (3.28, 0.94), (3.36, 0.93), (3.44, 0.94),
    (3.52, 0.93), (3.60, 0.94), (3.68, 0.93), (3.76, 0.94), (3.84, 0.93), (3.92, 0.94), (4.00, 0.93),
    (4.08, 0.94), (4.16, 0.93), (4.24, 0.94), (4.34, 0.93), (4.44, 0.95),
    (3.02, 0.91), (3.14, 0.90), (3.26, 0.91), (3.38, 0.90), (3.50, 0.91), (3.62, 0.90), (3.74, 0.91),
    (3.86, 0.90), (3.98, 0.91), (4.10, 0.90), (4.22, 0.91), (4.32, 0.89),
    (2.81, 0.845), (2.85, 0.853), (3.20, 0.88), (3.45, 0.88), (3.62, 0.885), (3.90, 0.88),
    (4.18, 0.87), (4.28, 0.86), (4.38, 0.87), (4.30, 0.85), (4.82, 0.903), (3.05, 0.87),
    (2.96, 0.955), (3.04, 0.95), (3.12, 0.958), (3.20, 0.95), (3.28, 0.958), (3.36, 0.95),
    (3.44, 0.958), (3.52, 0.95), (3.60, 0.958), (3.68, 0.95), (3.76, 0.958), (3.84, 0.95),
    (3.92, 0.958), (4.00, 0.95), (4.08, 0.958), (4.16, 0.95), (4.24, 0.958), (4.32, 0.95),
    (4.40, 0.955),
    (3.08, 0.92), (3.20, 0.915), (3.32, 0.922), (3.44, 0.915), (3.56, 0.922), (3.68, 0.915),
    (3.80, 0.922), (3.92, 0.915), (4.04, 0.922), (4.16, 0.915), (4.28, 0.922), (4.38, 0.91)]

# fitted curves span the observed predicted-distance range of each panel
curve_span = {'birds_all': (1.207, 5.85), 'birds_sub': (0.419, 1.806),
              'mammals_all': (1.081, 5.21), 'mammals_sub': (0.189, 2.75),
              'plants_all': (3.364, 8.38), 'plants_sub': (0.44, 5.75)}

W, H = 1017, 1468
fig = plt.figure(figsize=(W / 100, H / 100), dpi=100)
PT = 0.72  # points per pixel at 100 dpi


def fx(x):
    return x / W


def fy(y):
    return 1 - y / H


def gdm_link(eta):
    # GDM link: dissimilarity = 1 - exp(-predicted ecological distance)
    return 1 - np.exp(-eta)


def make_panel(box, xlim, ylim, xticks, xlabels, yticks, ylabels,
               xlen, ylen, xpad, ypad):
    left, top, right, bottom = box
    ax = fig.add_axes([fx(left), fy(bottom), (right - left) / W, (bottom - top) / H])
    ax.set_xlim(*xlim)
    ax.set_ylim(*ylim)
    for s in ['top', 'right']:
        ax.spines[s].set_visible(False)
    for s in ['left', 'bottom']:
        ax.spines[s].set_linewidth(1.5)
        ax.spines[s].set_capstyle('butt')
    ax.set_xticks(xticks)
    ax.set_xticklabels(xlabels)
    ax.set_yticks(yticks)
    ax.set_yticklabels(ylabels)
    ax.tick_params(axis='x', direction='out', length=xlen * PT, width=1.4,
                   pad=xpad * PT, labelsize=13.3)
    ax.tick_params(axis='y', direction='out', length=ylen * PT, width=1.4,
                   pad=ypad * PT, labelsize=13.3)
    ax.patch.set_alpha(0)
    return ax


def dots(ax, pts, size):
    ax.scatter([p[0] for p in pts], [p[1] for p in pts], s=size, c='black',
               linewidths=0, clip_on=False, zorder=3)


def row(ax, xs, y, size):
    ax.scatter(xs, [y] * len(xs), s=size, c='black', linewidths=0, clip_on=False, zorder=3)


def curve(ax, span):
    cx = np.linspace(span[0], span[1], 200)
    ax.plot(cx, gdm_link(cx), color='#e8141b', lw=1.5, zorder=4, clip_on=False)


yt6 = [0.0, 0.2, 0.4, 0.6, 0.8, 1.0]
yl6 = ['0.0', '0.2', '0.4', '0.6', '0.8', '1.0']

# Birds
ax1 = make_panel((159.3, 166.7, 477.3, 395.7), (1.091, 5.853), (-0.0364, 1.0045),
                 [2, 3, 4, 5], ['2', '3', '4', '5'], yt6, yl6, 12.7, 12.7, 14.3, 8.3)
dots(ax1, birds_all_pts, 23)
row(ax1, birds_all_top_x, 1.0, 23)
curve(ax1, curve_span['birds_all'])

ax2 = make_panel((649.3, 169.3, 962, 392.3), (0.397, 1.813), (-0.0225, 0.874),
                 [0.6, 0.8, 1.0, 1.2, 1.4, 1.6, 1.8], ['', '0.8', '', '1.2', '', '1.6', ''],
                 [0.0, 0.2, 0.4, 0.6, 0.8], ['0.0', '0.2', '0.4', '0.6', '0.8'],
                 7, 13, 19.5, 8)
dots(ax2, birds_sub_pts, 7)
curve(ax2, curve_span['birds_sub'])

# Mammals
ax3 = make_panel((166.7, 653.3, 483.3, 881.7), (0.994, 5.208), (-0.038, 1.003),
                 [2, 3, 4, 5], ['2', '3', '4', '5'], yt6, yl6, 13, 13.3, 13.1, 7.4)
dots(ax3, mammals_all_pts, 23)
row(ax3, mammals_all_top_x, 1.0, 23)
curve(ax3, curve_span['mammals_all'])

ax4 = make_panel((652.3, 653.3, 965.7, 877.7), (0.150, 2.764), (0.0549, 1.0017),
                 [0.5, 1.0, 1.5, 2.0, 2.5], ['0.5', '1.0', '1.5', '2.0', '2.5'],
                 [0.2, 0.4, 0.6, 0.8, 1.0], ['0.2', '0.4', '0.6', '0.8', '1.0'],
                 12.3, 12.3, 15.5, 7.7)
dots(ax4, mammals_sub_pts, 7)
curve(ax4, curve_span['mammals_sub'])

# Plants
ax5 = make_panel((166, 1148.3, 480.7, 1373.3), (3.287, 8.384), (-0.021, 1.0046),
                 [4, 5, 6, 7, 8], ['4', '5', '6', '7', '8'], yt6, yl6, 15, 12.7, 12.9, 7.3)
row(ax5, plants_all_top_x, 1.0, 9)
row(ax5, plants_all_band_x, 0.995, 9)
row(ax5, plants_all_near_top_x, 0.988, 8)
dots(ax5, plants_all_pts, 8)
curve(ax5, curve_span['plants_all'])

ax6 = make_panel((649.3, 1145, 962.3, 1370.7), (0.371, 5.777), (-0.0228, 1.0046),
                 [1, 2, 3, 4, 5], ['1', '2', '3', '4', '5'], yt6, yl6, 14, 13.3, 14.1, 7.7)
for cloud in (plants_sub_low_pts, plants_sub_low_fill, plants_sub_upper_pts,
              plants_sub_mid_pts, plants_sub_mid_fill, plants_sub_right_pts):
    dots(ax6, cloud, 9)
row(ax6, plants_sub_top_x, 1.0, 9)
curve(ax6, curve_span['plants_sub'])

# axis titles
xlab = 'Predicted Ecological Distance'
ylab = 'Observed Dissimilarity'
for cx, base in [(305.8, 480), (791.7, 476.7), (311.7, 964), (794.7, 962.3),
                 (308.3, 1457.3), (791.7, 1455)]:
    fig.text(fx(cx), fy(base), xlab, fontsize=18.6, ha='center', va='baseline')
for bx, cy in [(73.3, 276.7), (563.3, 276.7), (80, 763), (565, 763.3),
               (80, 1258), (563.3, 1255)]:
    fig.text(fx(bx), fy(cy), ylab, fontsize=18.6, rotation=90, rotation_mode='anchor',
             ha='center', va='baseline')

# column headers and group names
fig.text(fx(327), fy(47), 'All Samples', fontsize=24.5, ha='center', va='baseline')
fig.text(fx(783), fy(50), 'Sub Samples', fontsize=24.5, ha='center', va='baseline')
fig.text(fx(88), fy(117), 'Birds', fontsize=18.5, ha='left', va='baseline')
fig.text(fx(88), fy(610), 'Mammals', fontsize=18.5, ha='left', va='baseline')
fig.text(fx(95), fy(1102), 'Plants', fontsize=18.5, ha='left', va='baseline')

# frame lines along the left and top edges
fig.add_artist(Line2D([fx(7.5), fx(7.5)], [fy(6.5), 0], color='#111111', lw=1.6))
fig.add_artist(Line2D([fx(7.5), 1], [fy(6.5), fy(6.5)], color='#111111', lw=1.6))

fig.savefig('out.png', dpi=100)
